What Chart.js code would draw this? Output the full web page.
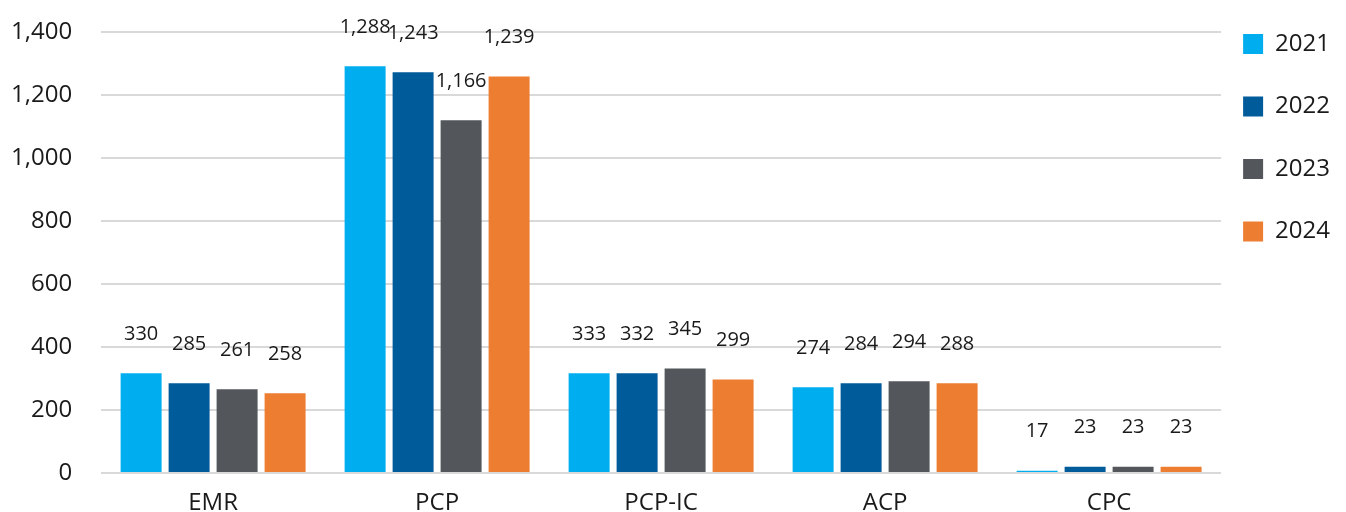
<!DOCTYPE html>
<html>
<head>
<meta charset="utf-8">
<script src="https://cdn.jsdelivr.net/npm/chart.js"></script>
<style>
    body { margin: 0; background: #fff; }
    #wrap { width: 1346px; height: 512px; }
</style>
</head>
<body>
<div id="wrap"><canvas id="yearChart"></canvas></div>
<script>
const categories = ['EMR', 'PCP', 'PCP-IC', 'ACP', 'CPC'];
const years = ['2021', '2022', '2023', '2024'];

// bar heights as drawn
const values2021 = [317, 1291, 317, 272, 7];
const values2022 = [285, 1272, 317, 285, 20];
const values2023 = [266, 1120, 332, 291, 20];
const values2024 = [253, 1259, 297, 285, 20];

// numbers printed above the bars
const labels2021 = ['330', '1,288', '333', '274', '17'];
const labels2022 = ['285', '1,243', '332', '284', '23'];
const labels2023 = ['261', '1,166', '345', '294', '23'];
const labels2024 = ['258', '1,239', '299', '288', '23'];

const yMax = 1400;
const yStep = 200;

const colors = ['#00AEEF', '#005B9A', '#53565A', '#ED7D31'];

Chart.defaults.font.family = "'Open Sans', sans-serif";
Chart.defaults.color = '#1a1a1a';

const barLabels = {
    id: 'barLabels',
    afterDatasetsDraw(chart) {
        const ctx = chart.ctx;
        ctx.save();
        ctx.font = "20px 'Open Sans', sans-serif";
        ctx.fillStyle = '#1a1a1a';
        ctx.textAlign = 'center';
        ctx.textBaseline = 'middle';
        chart.data.datasets.forEach((ds, i) => {
            const meta = chart.getDatasetMeta(i);
            meta.data.forEach((bar, j) => {
                ctx.fillText(ds.labelTexts[j], bar.x, bar.y - 39);
            });
        });
        ctx.restore();
    }
};

function makeDataset(year, values, texts, color) {
    return {
        label: year,
        data: values,
        labelTexts: texts,
        backgroundColor: color,
        borderWidth: 0,
        categoryPercentage: 0.857,
        barPercentage: 0.854
    };
}

new Chart(document.getElementById('yearChart').getContext('2d'), {
    type: 'bar',
    data: {
        labels: categories,
        datasets: [
            makeDataset(years[0], values2021, labels2021, colors[0]),
            makeDataset(years[1], values2022, labels2022, colors[1]),
            makeDataset(years[2], values2023, labels2023, colors[2]),
            makeDataset(years[3], values2024, labels2024, colors[3])
        ]
    },
    options: {
        responsive: true,
        maintainAspectRatio: false,
        animation: false,
        layout: { padding: { top: 10, left: -18, right: 6, bottom: -21 } },
        plugins: {
            title: {
                display: true,
                text: ' ',
                font: { size: 12, lineHeight: 1 },
                padding: { top: 0, bottom: 10 }
            },
            legend: {
                position: 'right',
                align: 'start',
                labels: {
                    boxWidth: 20,
                    boxHeight: 20,
                    padding: 22,
                    font: { size: 24, lineHeight: 1.6875 },
                    generateLabels(chart) {
                        const items = Chart.defaults.plugins.legend.labels.generateLabels(chart);
                        items.forEach(item => { item.text = [item.text]; });
                        return items;
                    }
                }
            },
            tooltip: { enabled: false }
        },
        scales: {
            x: {
                grid: { display: false, drawTicks: false },
                border: { display: false },
                ticks: { font: { size: 24, lineHeight: 1 }, padding: 18 }
            },
            y: {
                min: 0,
                max: yMax,
                ticks: {
                    stepSize: yStep,
                    font: { size: 24 },
                    padding: 29,
                    callback: v => v.toLocaleString('en-US')
                },
                grid: { color: '#d9d9d9', lineWidth: 2, drawTicks: false },
                border: { display: false },
                afterFit(scale) {
                    scale.paddingTop = 0;
                    scale.paddingBottom = 0;
                }
            }
        }
    },
    plugins: [barLabels]
});
</script>
</body>
</html>
